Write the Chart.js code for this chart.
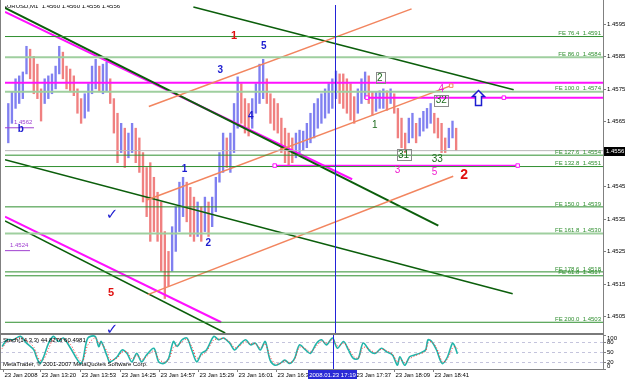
<!DOCTYPE html>
<html>
<head>
    <title>EURUSD,M1</title>
    <script src="https://cdn.jsdelivr.net/npm/chart.js"></script>
    <style>
        body { margin: 0; background: #fff; }
        #wrap { position: relative; width: 625px; height: 380px; }
        #wrap canvas { position: absolute; left: 0; top: 0; }
    </style>
</head>
<body>
<div id="wrap">
    <canvas id="mainChart" width="625" height="380"></canvas>
    <canvas id="stochChart" width="625" height="380"></canvas>
</div>
<script>
// time is minutes of the day (23 Jan 2008), price in EURUSD
const barStart = 770;   // 12:50, one bar every 3 minutes
const barStep = 3;
const barHigh = [1.45705, 1.45741, 1.45781, 1.45790, 1.45802, 1.45881, 1.45872, 1.45850, 1.45826, 1.45750,
    1.45781, 1.45790, 1.45796, 1.45820, 1.45881, 1.45863, 1.45820, 1.45811, 1.45790, 1.45750,
    1.45720, 1.45735, 1.45766, 1.45820, 1.45841, 1.45820, 1.45826, 1.45832, 1.45781, 1.45720,
    1.45675, 1.45644, 1.45629, 1.45614, 1.45644, 1.45629, 1.45599, 1.45554, 1.45508, 1.45523,
    1.45478, 1.45432, 1.45402, 1.45311, 1.45250, 1.45326, 1.45387, 1.45463, 1.45478, 1.45463,
    1.45447, 1.45417, 1.45402, 1.45387, 1.45417, 1.45402, 1.45417, 1.45478, 1.45554, 1.45614,
    1.45599, 1.45614, 1.45705, 1.45787, 1.45766, 1.45720, 1.45705, 1.45720, 1.45766, 1.45826,
    1.45841, 1.45781, 1.45735, 1.45720, 1.45705, 1.45660, 1.45629, 1.45614, 1.45599, 1.45614,
    1.45623, 1.45620, 1.45644, 1.45675, 1.45705, 1.45720, 1.45735, 1.45750, 1.45766, 1.45781,
    1.45805, 1.45796, 1.45796, 1.45781, 1.45766, 1.45726, 1.45750, 1.45781, 1.45802, 1.45790,
    1.45741, 1.45741, 1.45744, 1.45750, 1.45744, 1.45750, 1.45735, 1.45690, 1.45660, 1.45614,
    1.45660, 1.45675, 1.45644, 1.45660, 1.45681, 1.45690, 1.45705, 1.45675, 1.45660, 1.45644,
    1.45599, 1.45629, 1.45651, 1.45629];
const barLow = [1.45584, 1.45644, 1.45690, 1.45705, 1.45720, 1.45796, 1.45781, 1.45735, 1.45720, 1.45651,
    1.45705, 1.45720, 1.45735, 1.45750, 1.45796, 1.45781, 1.45750, 1.45741, 1.45729, 1.45675,
    1.45644, 1.45660, 1.45681, 1.45735, 1.45750, 1.45741, 1.45735, 1.45741, 1.45705, 1.45614,
    1.45523, 1.45554, 1.45508, 1.45538, 1.45554, 1.45523, 1.45493, 1.45402, 1.45357, 1.45281,
    1.45311, 1.45281, 1.45190, 1.45105, 1.45144, 1.45190, 1.45250, 1.45311, 1.45357, 1.45341,
    1.45296, 1.45281, 1.45296, 1.45281, 1.45311, 1.45296, 1.45326, 1.45372, 1.45463, 1.45493,
    1.45508, 1.45493, 1.45554, 1.45629, 1.45644, 1.45614, 1.45605, 1.45629, 1.45675, 1.45705,
    1.45720, 1.45705, 1.45644, 1.45623, 1.45614, 1.45554, 1.45523, 1.45514, 1.45523, 1.45538,
    1.45554, 1.45560, 1.45569, 1.45584, 1.45599, 1.45629, 1.45644, 1.45660, 1.45675, 1.45690,
    1.45720, 1.45705, 1.45690, 1.45675, 1.45654, 1.45644, 1.45675, 1.45705, 1.45720, 1.45705,
    1.45669, 1.45681, 1.45690, 1.45690, 1.45684, 1.45705, 1.45675, 1.45599, 1.45569, 1.45554,
    1.45584, 1.45599, 1.45584, 1.45605, 1.45620, 1.45629, 1.45644, 1.45614, 1.45599, 1.45554,
    1.45554, 1.45569, 1.45599, 1.45560];

// stochastic (14,3,3)
const stochTime = [769, 773, 778, 784, 789, 795, 797, 800, 803, 807,
    811, 815, 819, 825, 829, 833, 835, 839, 845, 848,
    850, 855, 857, 863, 867, 871, 875, 879, 883, 887,
    893, 897, 901, 905, 909, 912, 916, 920, 924, 928,
    932, 936, 942, 946, 950, 955, 959, 963, 968, 972,
    976, 980, 984, 988, 992, 996, 1000, 1004, 1008,
    1012, 1017, 1021, 1026, 1030, 1034, 1039, 1043, 1048, 1052,
    1056, 1060, 1064, 1070, 1074, 1079, 1083, 1088, 1092, 1094,
    1098, 1102, 1106, 1110, 1115, 1117, 1120, 1124, 1127, 1129,
    1133, 1137, 1139, 1141];
const stochMain = [66, 86, 86, 96, 76, 56, 36, 16, 36, 76,
    96, 81, 91, 61, 36, 16, 26, 91, 96, 66,
    81, 36, 21, 36, 56, 46, 21, 46, 21, 41,
    61, 21, 16, 31, 81, 66, 86, 91, 56, 21,
    46, 56, 96, 86, 91, 76, 56, 71, 86, 71,
    76, 56, 81, 26, 11, 16, 26, 16, 31,
    71, 56, 46, 76, 86, 71, 91, 61, 81, 56,
    31, 31, 76, 51, 46, 61, 51, 41, 11, 36,
    11, 36, 41, 46, 56, 86, 81, 56, 26, 16,
    36, 76, 66, 45];
const stochSignal = [60, 80, 86, 92, 84, 64, 44, 26, 28, 60,
    88, 88, 88, 72, 46, 24, 22, 70, 92, 76,
    76, 50, 28, 32, 50, 50, 30, 40, 28, 36,
    54, 30, 20, 26, 64, 70, 80, 88, 66, 32,
    40, 52, 86, 88, 90, 80, 62, 68, 80, 74,
    74, 62, 74, 36, 16, 16, 24, 18, 28,
    64, 60, 50, 68, 82, 76, 86, 68, 76, 62,
    38, 32, 64, 56, 48, 58, 54, 44, 20, 30,
    18, 30, 38, 44, 52, 76, 80, 62, 34, 20,
    30, 62, 66, 60];

// axes
const priceTicks = [1.4505, 1.4515, 1.4525, 1.4535, 1.4545, 1.4555, 1.4565, 1.4575, 1.4585, 1.4595];
const timeTicks = [770, 800, 833, 865, 897, 929, 961, 993, 1057, 1089, 1121];
const timeLabels = ['23 Jan 2008', '23 Jan 13:20', '23 Jan 13:53', '23 Jan 14:25', '23 Jan 14:57', '23 Jan 15:29',
    '23 Jan 16:01', '23 Jan 16:33', '23 Jan 17:37', '23 Jan 18:09', '23 Jan 18:41'];
const stochTicks = [100, 80, 50, 20, 0];
const stochLevels = [80, 50, 20];
const cursorTime = 1039;
const cursorLabel = '2008.01.23 17:19';
const lastPrice = 1.4556;
const mainTitle = 'EURUSD,M1  1.4560 1.4560 1.4556 1.4556';
const stochTitle = 'Stoch(14,3,3) 44.8276 60.4981';
const copyright = 'MetaTrader, \u00a9 2001-2007 MetaQuotes Software Corp.';

// Fibonacci expansion levels
const feNames = ['FE 76.4', 'FE 86.0', 'FE 100.0', 'FE 127.6', 'FE 132.8', 'FE 150.0', 'FE 161.8', 'FE 178.6', 'FE 61.8', 'FE 200.0'];
const feLevels = [1.45911, 1.45847, 1.45741, 1.45546, 1.45511, 1.45387, 1.45305, 1.45187, 1.45175, 1.45032];
const feShown = ['1.4591', '1.4584', '1.4574', '1.4554', '1.4551', '1.4539', '1.4530', '1.4518', '1.4517', '1.4503'];

// trend lines [time1, price1, time2, price2]
const greenLines = [
    [767.3, 1.45999, 1124.3, 1.45329],
    [922.5, 1.46002, 1186.4, 1.45747],
    [767.3, 1.45532, 1185.6, 1.45120],
    [767.3, 1.45344, 948.7, 1.44999]
];
const magentaLines = [
    [767.3, 1.45987, 1053.3, 1.45472],
    [767.3, 1.45357, 945.4, 1.45032],
    [767.3, 1.45769, 1260, 1.45769],
    [1065.5, 1.45723, 1260, 1.45723],
    [989.5, 1.45514, 1189.7, 1.45514]
];
const orangeLines = [
    [885.8, 1.45696, 1102.3, 1.45996],
    [884.1, 1.45408, 1134.9, 1.45760],
    [884.9, 1.45117, 1136.6, 1.45481]
];
const anchorTime = [1065.5, 1178.3, 989.5, 1189.7, 1134.9];
const anchorPrice = [1.45723, 1.45723, 1.45514, 1.45514, 1.45760];

// wave labels
const noteText = ['1', '5', '3', '4', '1', '2', '5', 'b', '2', '4', '32', '1', '31', '33', '3', '5', '2'];
const noteTime = [956.0, 980.5, 944.6, 969.9, 915.2, 934.8, 854.7, 780.4, 1076.1, 1126.8, 1126.8, 1072.0, 1095.7, 1123.5, 1090.8, 1121.1, 1145.6];
const notePrice = [1.45914, 1.45881, 1.45808, 1.45666, 1.45502, 1.45275, 1.45123, 1.45626, 1.45784, 1.45750, 1.45714, 1.45638, 1.45547, 1.45532, 1.45499, 1.45493, 1.45484];
const checkTime = [855.5, 855.5];
const checkPrice = [1.45363, 1.45008];
const priceNoteText = ['1.4562', '1.4524'];
const priceNoteTime = [774.7, 771.4];
const priceNotePrice = [1.45638, 1.45260];
const arrowTime = 1157.0;
const arrowPrice = 1.45726;

// styles for the wave labels, same order as noteText
const noteStyle = ['red', 'blue', 'blue', 'blue', 'blue', 'blue', 'red', 'blue', 'box', 'pink', 'box', 'green', 'box', 'green', 'pink', 'pink', 'redBig'];
const styleMap = {
    red: { color: '#e01010', font: 'bold 11px "Liberation Sans", Arial, sans-serif' },
    redBig: { color: '#e01010', font: 'bold 14px "Liberation Sans", Arial, sans-serif' },
    blue: { color: '#1c1cd0', font: 'bold 10px "Liberation Sans", Arial, sans-serif' },
    pink: { color: '#f020d0', font: '10px "Liberation Sans", Arial, sans-serif' },
    green: { color: '#1d6b1d', font: '10px "Liberation Sans", Arial, sans-serif' },
    box: { color: '#1d6b1d', font: '10px "Liberation Sans", Arial, sans-serif' }
};
const small = '6px "Liberation Sans", Arial, sans-serif';
const xMin = 767.3, xMax = 1260;

function seg(l) {
    return [{ x: l[0], y: l[1] }, { x: l[2], y: l[3] }];
}
function lineSet(l, color, width, dash) {
    return { type: 'line', data: seg(l), borderColor: color, borderWidth: width, borderDash: dash || [],
        pointRadius: 0, fill: false, order: 1 };
}

const datasets = [];
// FE levels
feLevels.forEach((p, i) => {
    const light = feNames[i] === 'FE 86.0' || feNames[i] === 'FE 100.0' || feNames[i] === 'FE 161.8';
    datasets.push(lineSet([xMin, p, xMax, p], light ? '#9fcf9f' : '#2f8f2f', light ? 2 : 1));
});
datasets.push(lineSet([xMin, lastPrice, xMax, lastPrice], '#b8b8b8', 1));
orangeLines.forEach(l => datasets.push(lineSet(l, '#f2855f', 1.5)));
greenLines.forEach((l, i) => datasets.push(lineSet(l, '#0b5e0b', i === 0 ? 2 : 1.6)));
magentaLines.forEach((l, i) => datasets.push(lineSet(l, '#ff10ff', i === 4 ? 1.5 : 2)));
datasets.push({
    type: 'scatter',
    data: anchorTime.map((t, i) => ({ x: t, y: anchorPrice[i] })),
    pointStyle: 'rect', pointRadius: 2.5, borderWidth: 1,
    borderColor: anchorTime.map((t, i) => i === 4 ? '#f2855f' : '#ff10ff'),
    backgroundColor: '#fff', order: 0
});
// candles
const barColors = barHigh.map((h, i) => {
    if (i === 0) return '#8080f0';
    const mid = (h + barLow[i]) / 2, prev = (barHigh[i - 1] + barLow[i - 1]) / 2;
    return mid >= prev ? '#8080f0' : '#f08080';
});
datasets.push({
    type: 'bar',
    data: barHigh.map((h, i) => ({ x: barStart + i * barStep, y: [barLow[i], h] })),
    backgroundColor: barColors, barThickness: 1.7, grouped: false, order: 5
});

function vCursor(chart, top, bottom) {
    const { ctx, scales: { x } } = chart;
    const px = Math.round(x.getPixelForValue(cursorTime)) + 0.5;
    ctx.save();
    ctx.strokeStyle = '#2323d8';
    ctx.lineWidth = 1;
    ctx.beginPath(); ctx.moveTo(px, top); ctx.lineTo(px, bottom); ctx.stroke();
    ctx.restore();
}

const mainDecor = {
    id: 'mainDecor',
    afterDatasetsDraw(chart) {
        const { ctx, chartArea: a, scales: { x, y } } = chart;
        vCursor(chart, a.top, a.bottom);
        ctx.save();
        ctx.beginPath(); ctx.rect(a.left, a.top, a.right - a.left, a.bottom - a.top); ctx.clip();

        // level labels
        ctx.font = small;
        ctx.fillStyle = '#2f8f2f';
        ctx.textAlign = 'right';
        ctx.textBaseline = 'bottom';
        feNames.forEach((n, i) => ctx.fillText(n + '  ' + feShown[i], a.right - 2, y.getPixelForValue(feLevels[i])));

        // price notes
        ctx.fillStyle = '#a040d0';
        ctx.strokeStyle = '#a040d0';
        ctx.textAlign = 'left';
        priceNoteText.forEach((t, i) => {
            const px = x.getPixelForValue(priceNoteTime[i]), py = y.getPixelForValue(priceNotePrice[i]);
            ctx.fillText(t, px, py);
            ctx.beginPath(); ctx.moveTo(0, py + 2.5); ctx.lineTo(px + 20, py + 2.5); ctx.stroke();
        });

        // wave labels
        ctx.textAlign = 'center';
        ctx.textBaseline = 'middle';
        noteText.forEach((t, i) => {
            const st = styleMap[noteStyle[i]];
            const px = x.getPixelForValue(noteTime[i]), py = y.getPixelForValue(notePrice[i]);
            ctx.font = st.font;
            ctx.fillStyle = st.color;
            ctx.fillText(t, px, py);
            if (noteStyle[i] === 'box') {
                const w = ctx.measureText(t).width + 3;
                ctx.strokeStyle = '#8a8a8a';
                ctx.lineWidth = 1;
                ctx.strokeRect(Math.round(px - w / 2) + 0.5, Math.round(py - 6) + 0.5, Math.round(w), 11);
            }
        });

        // check marks
        ctx.font = 'bold 15px "DejaVu Sans", sans-serif';
        ctx.fillStyle = '#1c1cd0';
        checkTime.forEach((t, i) => ctx.fillText('\u2713', x.getPixelForValue(t), y.getPixelForValue(checkPrice[i])));

        // up arrow
        const ax = Math.round(x.getPixelForValue(arrowTime)) + 0.5, ay = Math.round(y.getPixelForValue(arrowPrice)) + 0.5;
        ctx.beginPath();
        ctx.moveTo(ax, ay - 7);
        ctx.lineTo(ax + 6, ay - 1);
        ctx.lineTo(ax + 3, ay - 1);
        ctx.lineTo(ax + 3, ay + 8);
        ctx.lineTo(ax - 3, ay + 8);
        ctx.lineTo(ax - 3, ay - 1);
        ctx.lineTo(ax - 6, ay - 1);
        ctx.closePath();
        ctx.fillStyle = '#fff';
        ctx.fill();
        ctx.strokeStyle = '#1c1cd0';
        ctx.lineWidth = 1.5;
        ctx.stroke();

        // title
        ctx.font = small;
        ctx.fillStyle = '#000';
        ctx.textAlign = 'left';
        ctx.fillText(mainTitle, 3, 6);
        ctx.restore();

        // right price axis
        ctx.save();
        ctx.strokeStyle = '#808080';
        ctx.lineWidth = 1;
        ctx.beginPath();
        ctx.moveTo(a.right + 0.5, 0); ctx.lineTo(a.right + 0.5, a.bottom);
        ctx.moveTo(0.5, 0); ctx.lineTo(0.5, a.bottom);
        ctx.stroke();
        ctx.font = small;
        ctx.fillStyle = '#000';
        ctx.textAlign = 'left';
        ctx.textBaseline = 'middle';
        priceTicks.forEach(p => {
            const py = Math.round(y.getPixelForValue(p)) + 0.5;
            ctx.beginPath(); ctx.moveTo(a.right, py); ctx.lineTo(a.right + 3, py); ctx.stroke();
            ctx.fillText(p.toFixed(4), a.right + 4, py);
        });
        const ly = Math.round(y.getPixelForValue(lastPrice));
        ctx.fillStyle = '#000';
        ctx.fillRect(a.right + 1, ly - 4, 22, 9);
        ctx.fillStyle = '#fff';
        ctx.fillText(lastPrice.toFixed(4), a.right + 3, ly + 0.5);
        ctx.restore();
    }
};

const stochDecor = {
    id: 'stochDecor',
    beforeDatasetsDraw(chart) {
        const { ctx, chartArea: a, scales: { y } } = chart;
        ctx.save();
        ctx.strokeStyle = '#c4c4dc';
        ctx.setLineDash([3, 3]);
        ctx.lineWidth = 1;
        stochLevels.forEach(v => {
            const py = Math.round(y.getPixelForValue(v)) + 0.5;
            ctx.beginPath(); ctx.moveTo(a.left, py); ctx.lineTo(a.right, py); ctx.stroke();
        });
        ctx.restore();
    },
    afterDraw(chart) {
        const { ctx, chartArea: a, scales: { x, y } } = chart;
        vCursor(chart, a.top, a.bottom);
        ctx.save();
        // window frame
        ctx.fillStyle = '#7a7a7a';
        ctx.fillRect(0, a.top - 2, a.right, 2);
        ctx.strokeStyle = '#808080';
        ctx.lineWidth = 1;
        ctx.beginPath();
        ctx.moveTo(0, a.bottom + 0.5); ctx.lineTo(a.right + 1, a.bottom + 0.5);
        ctx.moveTo(a.right + 0.5, a.top - 2); ctx.lineTo(a.right + 0.5, a.bottom);
        ctx.moveTo(0.5, a.top); ctx.lineTo(0.5, a.bottom);
        ctx.stroke();

        ctx.font = small;
        ctx.fillStyle = '#000';
        ctx.textAlign = 'left';
        ctx.textBaseline = 'middle';
        ctx.fillText(stochTitle, 3, a.top + 5);
        ctx.fillText(copyright, 3, a.bottom - 5);

        // stochastic axis
        stochTicks.forEach(v => {
            const py = Math.round(y.getPixelForValue(v)) + 0.5;
            ctx.beginPath(); ctx.moveTo(a.right, py); ctx.lineTo(a.right + 3, py); ctx.stroke();
            ctx.fillText(String(v), a.right + 4, Math.min(Math.max(py, a.top + 3), a.bottom - 3));
        });

        // time axis
        ctx.textBaseline = 'top';
        timeTicks.forEach((t, i) => {
            const px = Math.round(x.getPixelForValue(t)) + 0.5;
            ctx.beginPath(); ctx.moveTo(px, a.bottom); ctx.lineTo(px, a.bottom + 3); ctx.stroke();
            ctx.fillText(timeLabels[i], px + 1, a.bottom + 3);
        });
        const cx = x.getPixelForValue(cursorTime);
        const w = ctx.measureText(cursorLabel).width + 2;
        ctx.fillStyle = '#2a2ad6';
        ctx.fillRect(Math.round(cx - w / 2), a.bottom + 1, Math.round(w), 9);
        ctx.fillStyle = '#fff';
        ctx.textAlign = 'center';
        ctx.fillText(cursorLabel, cx, a.bottom + 3);
        ctx.restore();
    }
};

new Chart(document.getElementById('mainChart'), {
    type: 'bar',
    data: { datasets: datasets },
    options: {
        responsive: false,
        animation: false,
        layout: { padding: { left: 0, top: 0, right: 22, bottom: 47 } },
        plugins: { legend: { display: false }, tooltip: { enabled: false } },
        scales: {
            x: { type: 'linear', min: xMin, max: xMax, offset: false, display: false },
            y: { type: 'linear', min: 1.44999, max: 1.46008, display: false }
        }
    },
    plugins: [mainDecor]
});

new Chart(document.getElementById('stochChart'), {
    type: 'line',
    data: {
        datasets: [
            { data: stochTime.map((t, i) => ({ x: t, y: stochSignal[i] })), borderColor: '#ff3030', borderWidth: 1,
              borderDash: [1, 2], pointRadius: 0, tension: 0.3 },
            { data: stochTime.map((t, i) => ({ x: t, y: stochMain[i] })), borderColor: '#23b5aa', borderWidth: 1.6,
              pointRadius: 0, tension: 0.3 }
        ]
    },
    options: {
        responsive: false,
        animation: false,
        layout: { padding: { left: 0, top: 335, right: 22, bottom: 11 } },
        plugins: { legend: { display: false }, tooltip: { enabled: false } },
        scales: {
            x: { type: 'linear', min: xMin, max: xMax, display: false },
            y: { min: 0, max: 100, display: false }
        }
    },
    plugins: [stochDecor]
});
</script>
</body>
</html>
